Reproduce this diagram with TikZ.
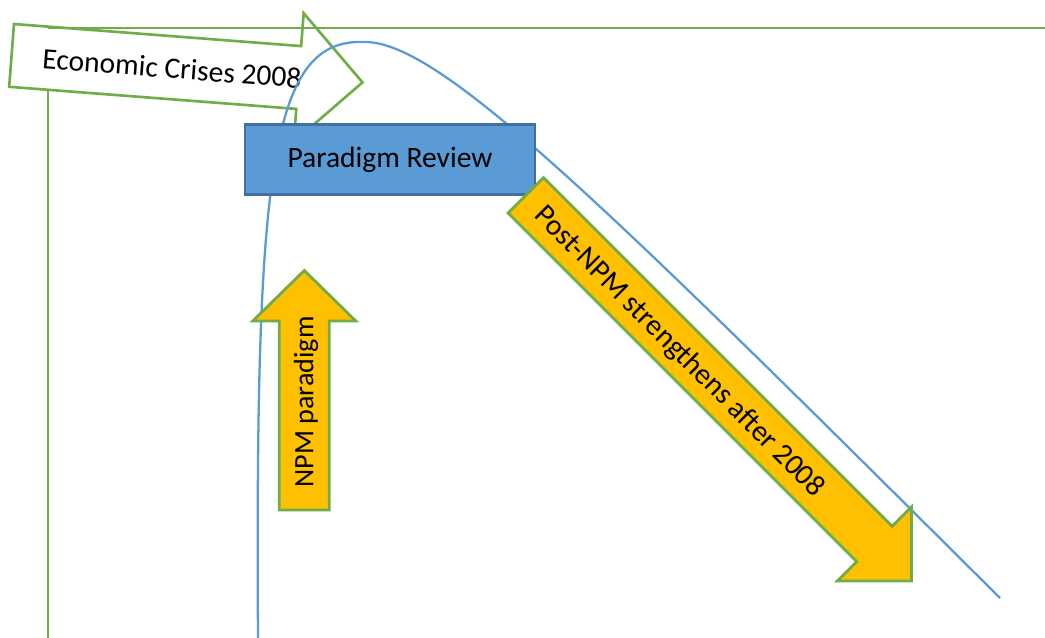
\documentclass[tikz,border=0pt]{standalone}
\usepackage{fontspec}
\setmainfont{Carlito}
\usepackage{tikz}
\usetikzlibrary{positioning}

\definecolor{axisgreen}{HTML}{70AD47}
\definecolor{curveblue}{HTML}{5B9BD5}
\definecolor{boxblue}{HTML}{5B9BD5}
\definecolor{boxedge}{HTML}{41719C}
\definecolor{arroworange}{HTML}{FFC000}

\begin{document}
\begin{tikzpicture}[
    x=0.02cm, y=-0.02cm,
    font=\fontsize{16.8}{20}\selectfont,
    % Styles
    axis/.style={draw=axisgreen, line width=1.4pt},
    crisis/.style={draw=axisgreen, fill=white, line width=1.5pt, line join=miter},
    curve/.style={draw=curveblue, line width=1.3pt},
    review/.style={
        draw=boxedge, fill=boxblue, line width=1.3pt,
        minimum width=5.8cm, minimum height=1.4cm, inner sep=0pt
    },
    blockarrow/.style={draw=axisgreen, fill=arroworange, line width=1.6pt, line join=miter},
    arrowtext/.style={inner sep=0pt, text=black}
]
    \useasboundingbox (0,0) rectangle (1045,638);

    % --- Axis (vertical) ---
    \draw[axis] (48,28) -- (48,638);

    % --- Economic crisis arrow ---
    \begin{scope}[shift={(14,24)}, rotate=-4.4]
        \path[crisis] (0,0) -- (288,0) -- (288,-33) -- (352,31.5)
            -- (288,96) -- (288,63) -- (0,63) -- cycle;
        \node[arrowtext, rotate=-4.4] (crisis) at (161,32) {Economic Crises 2008};
    \end{scope}

    % --- Axis (horizontal) ---
    \draw[axis] (48,28) -- (1045,28);

    % --- Paradigm curve ---
    \draw[curve] (258,638) .. controls (255,160) and (272,38) .. (365,42)
        .. controls (440,42) and (600,200) .. (1000,598);

    % --- Paradigm review box ---
    \node[review] (review) at (390,159.5) {Paradigm Review};

    % --- NPM paradigm arrow ---
    \path[blockarrow] (279.3,510) -- (279.3,321) -- (252.8,321) -- (304.3,270.5)
        -- (355.8,321) -- (329.3,321) -- (329.3,510) -- cycle;
    \node[arrowtext, rotate=90, font=\fontsize{16}{19}\selectfont] (npm) at (306,402) {NPM paradigm};

    % --- Post-NPM arrow ---
    \begin{scope}[shift={(525.8,195.3)}, rotate=-45]
        \path[blockarrow] (0,-25) -- (493,-25) -- (493,-52.5) -- (545.5,0)
            -- (493,52.5) -- (493,25) -- (0,25) -- cycle;
    \end{scope}
    \node[arrowtext, rotate=-45] (postnpm) at (679,352) {Post-NPM strengthens after 2008};

\end{tikzpicture}
\end{document}
